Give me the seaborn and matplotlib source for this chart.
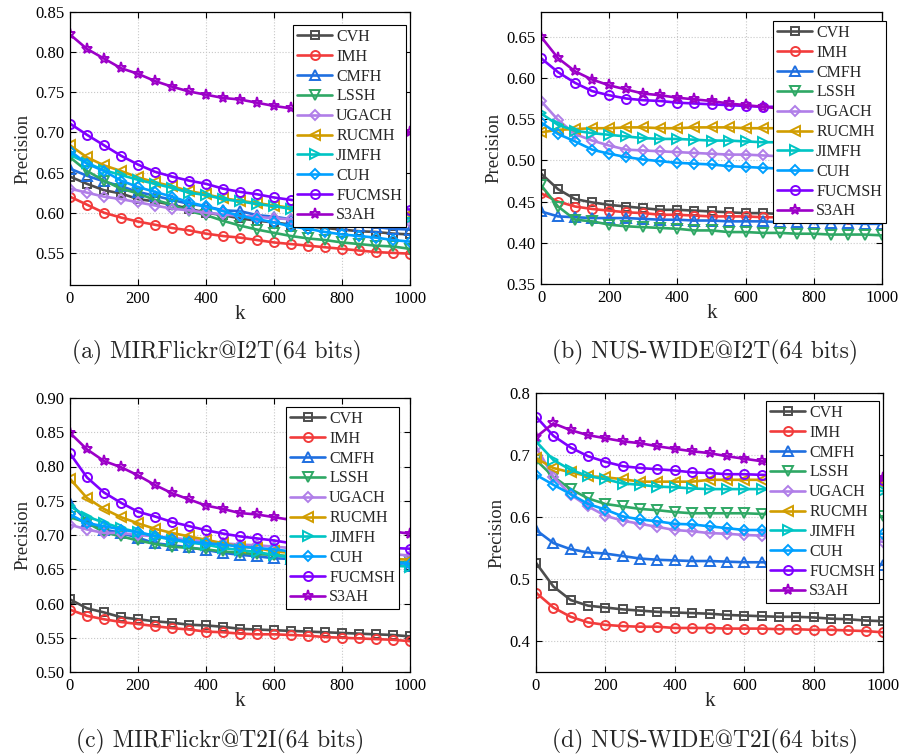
import matplotlib
matplotlib.use("Agg")
import matplotlib.pyplot as plt
import numpy as np
import pandas as pd
import seaborn as sns
from matplotlib.lines import Line2D

K = list(range(0, 1001, 50))
METHODS = ['CVH', 'IMH', 'CMFH', 'LSSH', 'UGACH', 'RUCMH', 'JIMFH', 'CUH', 'FUCMSH', 'S3AH']

# (a) MIRFlickr@I2T
a_CVH = [0.645, 0.636, 0.628, 0.624, 0.617, 0.614, 0.610, 0.605, 0.600, 0.597, 0.593, 0.590, 0.588, 0.585, 0.583, 0.581, 0.579, 0.577, 0.576, 0.574, 0.573]
a_IMH = [0.620, 0.610, 0.600, 0.594, 0.589, 0.585, 0.581, 0.578, 0.574, 0.571, 0.569, 0.566, 0.563, 0.561, 0.559, 0.557, 0.555, 0.553, 0.551, 0.550, 0.549]
a_CMFH = [0.655, 0.646, 0.639, 0.633, 0.626, 0.621, 0.616, 0.611, 0.608, 0.603, 0.602, 0.597, 0.595, 0.592, 0.590, 0.588, 0.585, 0.583, 0.582, 0.580, 0.579]
a_LSSH = [0.669, 0.652, 0.640, 0.630, 0.624, 0.616, 0.610, 0.602, 0.597, 0.590, 0.584, 0.579, 0.575, 0.571, 0.568, 0.566, 0.563, 0.561, 0.559, 0.558, 0.555]
a_UGACH = [0.630, 0.625, 0.620, 0.617, 0.613, 0.609, 0.605, 0.603, 0.600, 0.598, 0.596, 0.595, 0.593, 0.592, 0.592, 0.591, 0.590, 0.590, 0.589, 0.589, 0.588]
a_RUCMH = [0.684, 0.669, 0.659, 0.652, 0.644, 0.638, 0.633, 0.627, 0.623, 0.618, 0.615, 0.612, 0.609, 0.606, 0.604, 0.603, 0.601, 0.600, 0.599, 0.598, 0.598]
a_JIMFH = [0.672, 0.662, 0.653, 0.647, 0.641, 0.636, 0.631, 0.625, 0.622, 0.617, 0.614, 0.611, 0.608, 0.605, 0.603, 0.601, 0.599, 0.597, 0.596, 0.594, 0.593]
a_CUH = [0.677, 0.661, 0.652, 0.640, 0.632, 0.626, 0.620, 0.613, 0.608, 0.602, 0.596, 0.592, 0.588, 0.583, 0.580, 0.576, 0.573, 0.571, 0.569, 0.566, 0.564]
a_FUCMSH = [0.711, 0.697, 0.684, 0.671, 0.660, 0.651, 0.645, 0.640, 0.636, 0.630, 0.626, 0.623, 0.619, 0.616, 0.614, 0.612, 0.610, 0.608, 0.606, 0.605, 0.604]
a_S3AH = [0.822, 0.804, 0.792, 0.780, 0.773, 0.764, 0.757, 0.751, 0.747, 0.743, 0.741, 0.737, 0.733, 0.730, 0.727, 0.724, 0.720, 0.715, 0.711, 0.706, 0.700]

# (b) NUS-WIDE@I2T
b_CVH = [0.484, 0.465, 0.453, 0.449, 0.446, 0.444, 0.442, 0.440, 0.440, 0.439, 0.438, 0.437, 0.436, 0.436, 0.435, 0.434, 0.433, 0.432, 0.431, 0.431, 0.430]
b_IMH = [0.460, 0.450, 0.444, 0.441, 0.439, 0.437, 0.436, 0.434, 0.434, 0.433, 0.432, 0.432, 0.432, 0.431, 0.431, 0.430, 0.430, 0.430, 0.429, 0.429, 0.429]
b_CMFH = [0.438, 0.432, 0.431, 0.430, 0.430, 0.430, 0.429, 0.428, 0.428, 0.427, 0.427, 0.426, 0.426, 0.426, 0.425, 0.425, 0.424, 0.424, 0.424, 0.423, 0.423]
b_LSSH = [0.470, 0.444, 0.428, 0.426, 0.422, 0.420, 0.419, 0.418, 0.417, 0.415, 0.415, 0.413, 0.413, 0.412, 0.412, 0.411, 0.411, 0.410, 0.410, 0.410, 0.409]
b_UGACH = [0.572, 0.549, 0.532, 0.524, 0.518, 0.513, 0.512, 0.511, 0.510, 0.509, 0.508, 0.507, 0.507, 0.506, 0.505, 0.505, 0.504, 0.504, 0.503, 0.503, 0.502]
b_RUCMH = [0.534, 0.537, 0.538, 0.539, 0.539, 0.540, 0.540, 0.539, 0.539, 0.540, 0.540, 0.540, 0.539, 0.539, 0.539, 0.538, 0.538, 0.537, 0.537, 0.536, 0.536]
b_JIMFH = [0.557, 0.543, 0.536, 0.533, 0.531, 0.529, 0.527, 0.526, 0.526, 0.525, 0.524, 0.524, 0.523, 0.522, 0.522, 0.521, 0.521, 0.520, 0.520, 0.519, 0.519]
b_CUH = [0.546, 0.532, 0.523, 0.513, 0.508, 0.504, 0.501, 0.499, 0.497, 0.496, 0.495, 0.493, 0.492, 0.491, 0.490, 0.489, 0.489, 0.488, 0.487, 0.487, 0.486]
b_FUCMSH = [0.624, 0.607, 0.594, 0.584, 0.579, 0.575, 0.573, 0.572, 0.570, 0.569, 0.568, 0.567, 0.566, 0.565, 0.565, 0.564, 0.564, 0.564, 0.563, 0.563, 0.563]
b_S3AH = [0.650, 0.624, 0.608, 0.598, 0.591, 0.586, 0.581, 0.579, 0.576, 0.574, 0.572, 0.569, 0.567, 0.565, 0.563, 0.561, 0.559, 0.557, 0.555, 0.553, 0.551]

# (c) MIRFlickr@T2I
c_CVH = [0.606, 0.593, 0.587, 0.580, 0.577, 0.574, 0.572, 0.569, 0.568, 0.566, 0.563, 0.562, 0.561, 0.560, 0.559, 0.558, 0.557, 0.556, 0.555, 0.554, 0.552]
c_IMH = [0.591, 0.582, 0.577, 0.573, 0.570, 0.567, 0.564, 0.562, 0.559, 0.558, 0.556, 0.555, 0.555, 0.554, 0.553, 0.551, 0.550, 0.549, 0.548, 0.547, 0.545]
c_CMFH = [0.747, 0.720, 0.708, 0.703, 0.696, 0.688, 0.685, 0.682, 0.678, 0.674, 0.671, 0.669, 0.666, 0.665, 0.664, 0.662, 0.661, 0.659, 0.658, 0.656, 0.655]
c_LSSH = [0.726, 0.718, 0.704, 0.698, 0.692, 0.687, 0.683, 0.681, 0.679, 0.676, 0.674, 0.672, 0.671, 0.669, 0.668, 0.667, 0.665, 0.664, 0.663, 0.661, 0.660]
c_UGACH = [0.715, 0.708, 0.703, 0.703, 0.700, 0.698, 0.696, 0.693, 0.691, 0.688, 0.686, 0.685, 0.683, 0.681, 0.680, 0.678, 0.677, 0.675, 0.674, 0.672, 0.670]
c_RUCMH = [0.782, 0.754, 0.738, 0.726, 0.717, 0.709, 0.703, 0.698, 0.693, 0.688, 0.683, 0.681, 0.676, 0.674, 0.672, 0.670, 0.669, 0.667, 0.666, 0.665, 0.664]
c_JIMFH = [0.742, 0.727, 0.718, 0.710, 0.704, 0.698, 0.693, 0.689, 0.686, 0.681, 0.678, 0.675, 0.671, 0.667, 0.665, 0.663, 0.661, 0.659, 0.657, 0.655, 0.654]
c_CUH = [0.730, 0.717, 0.713, 0.708, 0.704, 0.699, 0.694, 0.690, 0.688, 0.686, 0.683, 0.681, 0.679, 0.676, 0.674, 0.672, 0.670, 0.667, 0.664, 0.661, 0.658]
c_FUCMSH = [0.819, 0.784, 0.762, 0.747, 0.734, 0.727, 0.719, 0.713, 0.707, 0.702, 0.698, 0.695, 0.692, 0.688, 0.687, 0.686, 0.685, 0.684, 0.682, 0.681, 0.680]
c_S3AH = [0.849, 0.825, 0.808, 0.799, 0.787, 0.773, 0.761, 0.752, 0.743, 0.738, 0.732, 0.730, 0.726, 0.722, 0.720, 0.717, 0.714, 0.711, 0.708, 0.705, 0.702]

# (d) NUS-WIDE@T2I
d_CVH = [0.526, 0.488, 0.466, 0.457, 0.454, 0.451, 0.449, 0.447, 0.446, 0.445, 0.444, 0.442, 0.441, 0.440, 0.439, 0.439, 0.438, 0.436, 0.435, 0.433, 0.432]
d_IMH = [0.478, 0.454, 0.439, 0.430, 0.426, 0.424, 0.423, 0.423, 0.421, 0.421, 0.421, 0.420, 0.420, 0.420, 0.419, 0.419, 0.418, 0.418, 0.417, 0.416, 0.414]
d_CMFH = [0.579, 0.558, 0.548, 0.543, 0.541, 0.537, 0.533, 0.531, 0.530, 0.529, 0.529, 0.528, 0.527, 0.527, 0.526, 0.526, 0.525, 0.525, 0.524, 0.524, 0.523]
d_LSSH = [0.692, 0.665, 0.645, 0.630, 0.621, 0.617, 0.613, 0.611, 0.608, 0.606, 0.606, 0.606, 0.606, 0.605, 0.604, 0.604, 0.603, 0.603, 0.602, 0.602, 0.601]
d_UGACH = [0.713, 0.665, 0.636, 0.617, 0.602, 0.594, 0.589, 0.584, 0.579, 0.577, 0.574, 0.573, 0.571, 0.570, 0.568, 0.567, 0.566, 0.565, 0.563, 0.562, 0.560]
d_RUCMH = [0.695, 0.679, 0.672, 0.666, 0.664, 0.661, 0.657, 0.657, 0.657, 0.657, 0.660, 0.660, 0.660, 0.660, 0.659, 0.658, 0.657, 0.656, 0.655, 0.654, 0.653]
d_JIMFH = [0.722, 0.692, 0.676, 0.666, 0.661, 0.654, 0.652, 0.649, 0.648, 0.646, 0.645, 0.645, 0.645, 0.645, 0.644, 0.644, 0.644, 0.643, 0.643, 0.643, 0.642]
d_CUH = [0.668, 0.652, 0.637, 0.621, 0.612, 0.601, 0.596, 0.593, 0.589, 0.588, 0.585, 0.582, 0.579, 0.579, 0.578, 0.577, 0.576, 0.576, 0.575, 0.574, 0.573]
d_FUCMSH = [0.762, 0.731, 0.712, 0.698, 0.689, 0.682, 0.679, 0.677, 0.675, 0.672, 0.671, 0.669, 0.669, 0.668, 0.667, 0.666, 0.665, 0.664, 0.663, 0.662, 0.660]
d_S3AH = [0.729, 0.751, 0.740, 0.732, 0.727, 0.722, 0.719, 0.714, 0.710, 0.706, 0.703, 0.698, 0.694, 0.690, 0.687, 0.683, 0.679, 0.675, 0.671, 0.667, 0.663]

CAPTIONS = ['(a) MIRFlickr@I2T(64 bits)', '(b) NUS-WIDE@I2T(64 bits)',
            '(c) MIRFlickr@T2I(64 bits)', '(d) NUS-WIDE@T2I(64 bits)']
X_TICKS = [0, 200, 400, 600, 800, 1000]
Y_TICKS = [[0.55, 0.60, 0.65, 0.70, 0.75, 0.80, 0.85],
           [0.35, 0.40, 0.45, 0.50, 0.55, 0.60, 0.65],
           [0.50, 0.55, 0.60, 0.65, 0.70, 0.75, 0.80, 0.85, 0.90],
           [0.4, 0.5, 0.6, 0.7, 0.8]]
Y_LIMS = [(0.51, 0.85), (0.35, 0.68), (0.50, 0.90), (0.35, 0.80)]
Y_FMT = ['%.2f', '%.2f', '%.2f', '%.1f']

panels = [
    [a_CVH, a_IMH, a_CMFH, a_LSSH, a_UGACH, a_RUCMH, a_JIMFH, a_CUH, a_FUCMSH, a_S3AH],
    [b_CVH, b_IMH, b_CMFH, b_LSSH, b_UGACH, b_RUCMH, b_JIMFH, b_CUH, b_FUCMSH, b_S3AH],
    [c_CVH, c_IMH, c_CMFH, c_LSSH, c_UGACH, c_RUCMH, c_JIMFH, c_CUH, c_FUCMSH, c_S3AH],
    [d_CVH, d_IMH, d_CMFH, d_LSSH, d_UGACH, d_RUCMH, d_JIMFH, d_CUH, d_FUCMSH, d_S3AH],
]

COLORS = ['#4d4d4d', '#f23c3c', '#1f6fe0', '#2fa865', '#b07ee8',
          '#d19d00', '#00c4c4', '#00a0ff', '#7f00ff', '#9c00c8']
MARKERS = ['s', 'o', '^', 'v', 'D', '<', '>', 'D', 'o', '*']
MSIZE = [6, 6.5, 6.5, 6.5, 5.5, 6.5, 6.5, 5.5, 6.5, 8]

sns.set_theme(style='ticks')
plt.rcParams['font.family'] = ['Liberation Serif', 'DejaVu Serif']

fig = plt.figure(figsize=(9.02, 7.56), dpi=100)
W, H = 902, 756
boxes = [(70, 12, 410, 285), (541, 12, 882, 284), (70, 398, 410, 672), (536, 393, 883, 672)]
legend_boxes = [(293, 25), (773, 21), (286, 407), (766, 401)]  # left, top in px
caption_pos = [(217, 352), (705, 352), (220, 741), (705, 741)]

pal = dict(zip(METHODS, COLORS))
mk = dict(zip(METHODS, MARKERS))

for i, (l, t, r, b) in enumerate(boxes):
    ax = fig.add_axes([l / W, 1 - b / H, (r - l) / W, (b - t) / H])
    rows = []
    for m, vals in zip(METHODS, panels[i]):
        for k, v in zip(K, vals):
            rows.append({'k': k, 'Precision': v, 'method': m})
    df = pd.DataFrame(rows)
    sns.lineplot(data=df, x='k', y='Precision', hue='method', style='method',
                 hue_order=METHODS, style_order=METHODS, palette=pal,
                 markers=mk, dashes=False, legend=False, ax=ax,
                 linewidth=1.9, estimator=None, sort=False)
    handles = []
    for line, m, ms in zip(ax.lines, METHODS, MSIZE):
        c = line.get_color()
        line.set_markeredgecolor(c)
        line.set_markerfacecolor('none')
        line.set_markeredgewidth(1.4)
        line.set_markersize(ms)
        handles.append(Line2D([], [], color=c, lw=1.9, marker=line.get_marker(),
                              ms=ms, mec=c, mfc='none', mew=1.4))
    ax.set_xlim(0, 1000)
    ax.set_ylim(*Y_LIMS[i])
    ax.set_xticks(X_TICKS)
    ax.set_yticks(Y_TICKS[i])
    ax.set_yticklabels([Y_FMT[i] % v for v in Y_TICKS[i]])
    ax.grid(True, color='#c8c8c8', linestyle=':', linewidth=0.8)
    ax.tick_params(direction='in', top=True, right=True, length=4, width=0.8,
                   labelsize=12, pad=4, colors='black')
    for s in ax.spines.values():
        s.set_linewidth(0.9)
        s.set_color('black')
    ax.set_xlabel('k', fontsize=15, labelpad=-1)
    ax.set_ylabel('Precision', fontsize=13.5, labelpad=3)
    lx, ly = legend_boxes[i]
    leg = ax.legend(handles, METHODS, loc='upper left',
                    bbox_to_anchor=(lx / W, 1 - ly / H), bbox_transform=fig.transFigure,
                    fontsize=11.5, frameon=True, fancybox=False, framealpha=1,
                    edgecolor='black', handlelength=2.2, handletextpad=0.25,
                    labelspacing=0.24, borderpad=0.25, borderaxespad=0)
    leg.get_frame().set_linewidth(0.8)
    cx, cy = caption_pos[i]
    fig.text(cx / W, 1 - cy / H, CAPTIONS[i], ha='center', va='center',
             fontsize=17, family=['cmr10', 'DejaVu Serif'])

fig.savefig('out.png', dpi=100)
